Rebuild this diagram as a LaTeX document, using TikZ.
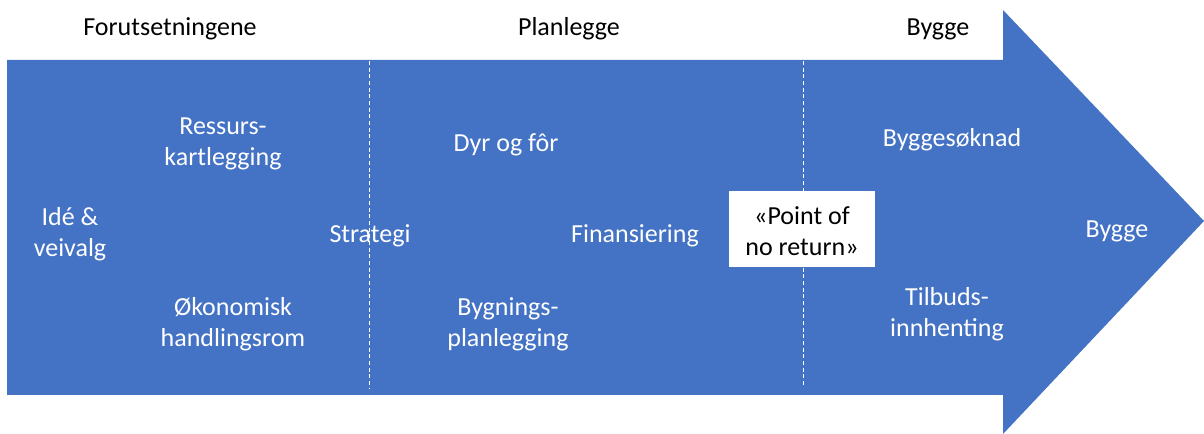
\documentclass[tikz,border=0pt]{standalone}
\usepackage{fontspec}
\setmainfont{Carlito}
\definecolor{officeblue}{HTML}{4472C4}
\begin{document}
\begin{tikzpicture}[x=0.75pt,y=-0.75pt,
  lbl/.style={font=\fontsize{19.5}{23.25}\selectfont, align=center, inner sep=0pt, yshift=-1.5pt},
  wlbl/.style={lbl, text=white},
  sep/.style={white, dash pattern=on 3pt off 2pt, line width=0.6pt}]
\useasboundingbox (0,0) rectangle (1204,434);
\fill[officeblue] (7,60) -- (1003,60) -- (1003,10) -- (1204,221) -- (1003,434) -- (1003,395) -- (7,395) -- cycle;
\coordinate (s1t) at (369,61);
\coordinate (s1b) at (369,388);
\coordinate (s2t) at (803,61);
\coordinate (s2b) at (803,386);
\draw[sep] (s1t) -- (s1b);
\draw[sep] (s2t) -- (s2b);
\node[lbl] (h1) at (170,27) {Forutsetningene};
\node[lbl] (h2) at (569,27) {Planlegge};
\node[lbl] (h3) at (938,27) {Bygge};
\node[wlbl] (res) at (223,142) {Ressurs-\\kartlegging};
\node[wlbl] (ide) at (70,232) {Idé \&\\veivalg};
\node[wlbl] (oko) at (233,322) {Økonomisk\\handlingsrom};
\node[wlbl] (str) at (370,234) {Strategi};
\node[wlbl] (dyr) at (506,143) {Dyr og fôr};
\node[wlbl] (fin) at (635,234) {Finansiering};
\node[wlbl] (byg) at (508,322) {Bygnings-\\planlegging};
\node[fill=white, minimum width=146*0.75pt, minimum height=76*0.75pt, inner sep=0pt] (box) at (802,229) {};
\node[lbl] (pnr) at (box) {«Point of\\no return»};
\node[wlbl] (bs) at (952,138) {Byggesøknad};
\node[wlbl] (bg) at (1117,229) {Bygge};
\node[wlbl] (tb) at (947,312) {Tilbuds-\\innhenting};
\end{tikzpicture}
\end{document}
